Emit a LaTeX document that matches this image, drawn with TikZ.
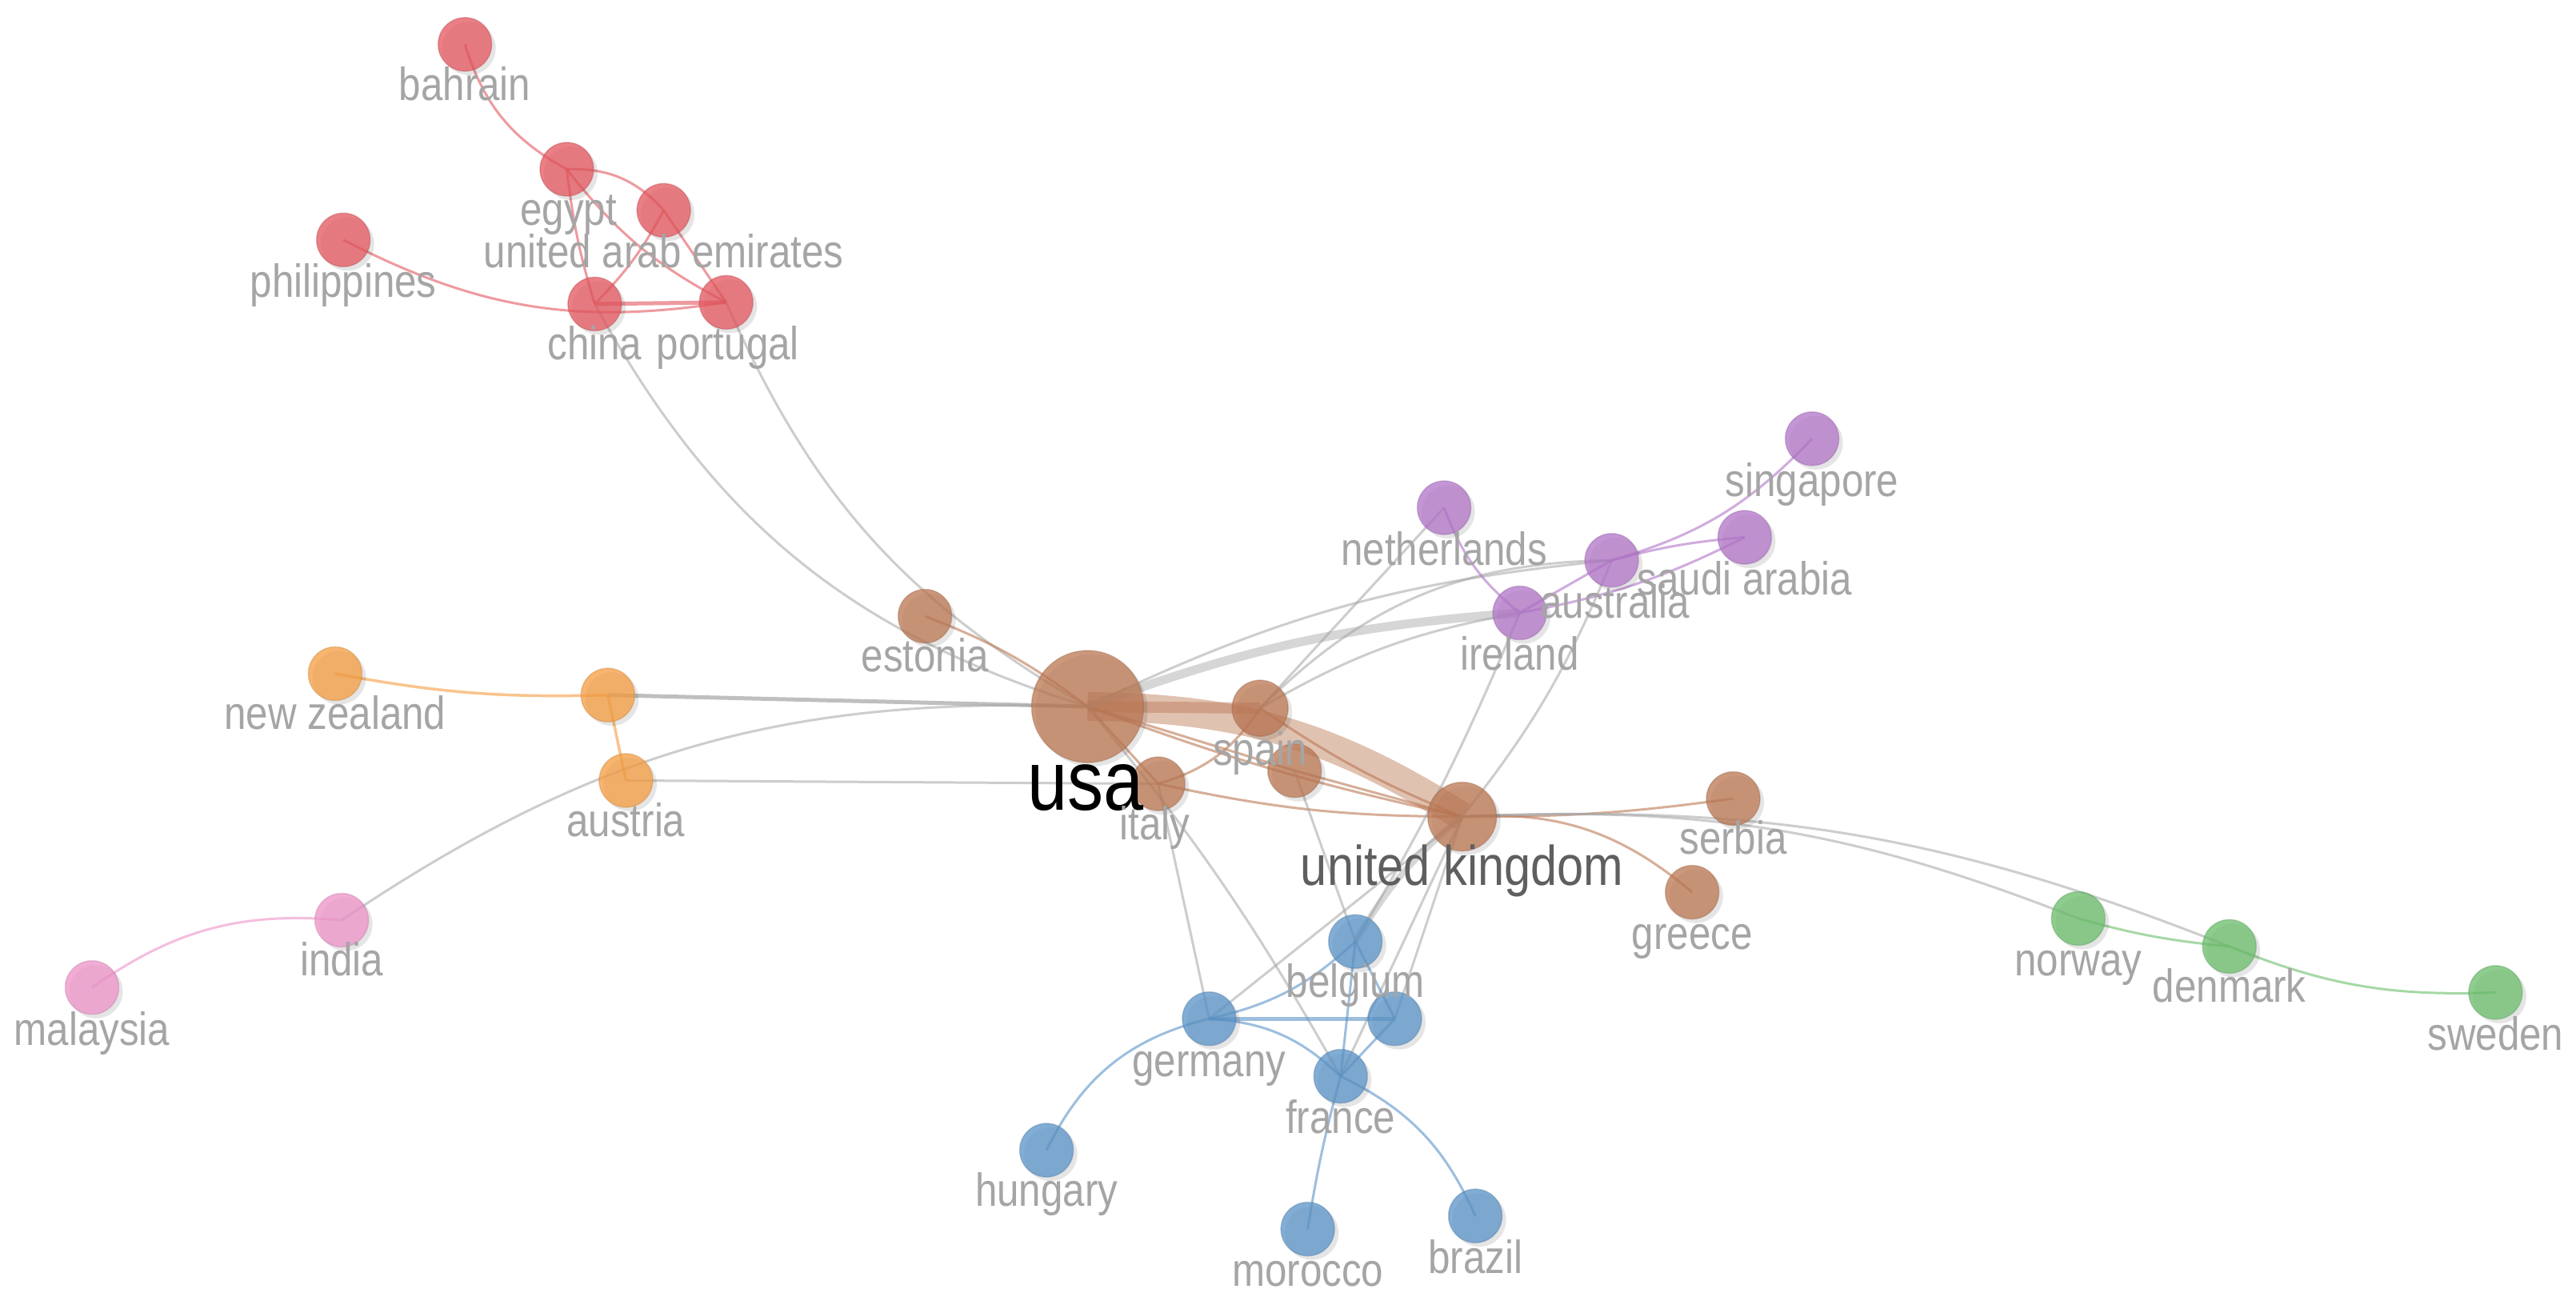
\documentclass[tikz,border=0pt]{standalone}
\usepackage{fontspec}
\newfontfamily\lbl{Liberation Sans}[FakeStretch=0.85]
\usetikzlibrary{shadows}
\pgfdeclarelayer{bg}
\pgfsetlayers{bg,main}
\definecolor{cred}{RGB}{228,88,95}
\definecolor{cbrown}{RGB}{188,120,84}
\definecolor{cpurple}{RGB}{178,118,200}
\definecolor{corange}{RGB}{245,158,66}
\definecolor{cpink}{RGB}{238,148,200}
\definecolor{cgreen}{RGB}{108,190,108}
\definecolor{cblue}{RGB}{92,148,200}
\definecolor{labgray}{RGB}{165,165,165}
\definecolor{ukgray}{RGB}{95,95,95}
\definecolor{edgegray}{RGB}{165,165,165}
\begin{document}
\begin{tikzpicture}[x=2.0536pt,y=-2.0536pt,
  cnode/.style={circle, inner sep=0pt, minimum size=67pt, fill=#1, draw=#1!80!black,
    fill opacity=0.76, draw opacity=0.35, line width=1.5pt,
    drop shadow={shadow xshift=5pt, shadow yshift=-5pt, opacity=0.10, fill=black}},
  lab/.style={anchor=base, text=labgray, font=\lbl\fontsize{58}{60}\selectfont, inner sep=0pt},
  gedge/.style={draw=edgegray, line width=3pt, draw opacity=0.55},
  redge/.style={draw=cred, line width=3pt, draw opacity=0.6},
  bedge/.style={draw=cbrown, line width=3pt, draw opacity=0.6},
  pedge/.style={draw=cpurple, line width=3pt, draw opacity=0.6},
  oedge/.style={draw=corange, line width=3.5pt, draw opacity=0.6},
  kedge/.style={draw=cpink, line width=3pt, draw opacity=0.6},
  grnedge/.style={draw=cgreen, line width=3pt, draw opacity=0.6},
  bluedge/.style={draw=cblue, line width=3pt, draw opacity=0.6}]
\begin{pgfonlayer}{bg}
\fill[white] (0,0) rectangle (1568,794);
\end{pgfonlayer}
\useasboundingbox (0,0) rectangle (1568,794);

% ---------- nodes ----------
\node[cnode=cred] (bah) at (283,27) {};
\node[cnode=cred] (egy) at (345,103) {};
\node[cnode=cred] (uae) at (404,128) {};
\node[cnode=cred] (phi) at (209,146) {};
\node[cnode=cred] (chi) at (362,185) {};
\node[cnode=cred] (por) at (442,184) {};
\node[cnode=cbrown] (est) at (563,375) {};
\node[cnode=cbrown, minimum size=140pt] (usa) at (662,430) {};
\node[cnode=cbrown, minimum size=70pt] (spa) at (767,431) {};
\node[cnode=cbrown] (ita) at (705,477) {};
\node[cnode=cbrown] (bx) at (788,469) {};
\node[cnode=cbrown, minimum size=86pt] (uk) at (890,497) {};
\node[cnode=cbrown] (ser) at (1055,486) {};
\node[cnode=cbrown] (gre) at (1030,543) {};
\node[cnode=cpurple] (net) at (879,309) {};
\node[cnode=cpurple] (aus) at (981,341) {};
\node[cnode=cpurple] (sau) at (1062,327) {};
\node[cnode=cpurple] (sin) at (1103,267) {};
\node[cnode=cpurple] (ire) at (925,373) {};
\node[cnode=corange] (nz) at (204,410) {};
\node[cnode=corange] (ox) at (370,423) {};
\node[cnode=corange] (aut) at (381,475) {};
\node[cnode=cpink] (ind) at (208,560) {};
\node[cnode=cpink] (mal) at (56,601) {};
\node[cnode=cgreen] (nor) at (1265,559) {};
\node[cnode=cgreen] (den) at (1357,576) {};
\node[cnode=cgreen] (swe) at (1519,604) {};
\node[cnode=cblue] (bel) at (825,573) {};
\node[cnode=cblue] (bx2) at (849,620) {};
\node[cnode=cblue] (ger) at (736,620) {};
\node[cnode=cblue] (fra) at (816,655) {};
\node[cnode=cblue] (hun) at (637,700) {};
\node[cnode=cblue] (mor) at (796,748) {};
\node[cnode=cblue] (bra) at (898,740) {};

% ---------- edges ----------
\begin{pgfonlayer}{bg}
% red cluster
\draw[redge] (bah.center) to[bend right=22] (egy.center);
\draw[redge] (egy.center) to[bend left=25] (uae.center);
\draw[redge] (egy.center) to[bend right=5] (chi.center);
\draw[redge] (egy.center) to[bend right=12] (por.center);
\draw[redge] (uae.center) to[bend left=8] (chi.center);
\draw[redge] (uae.center) to (por.center);
\draw[redge] (phi.center) to[bend right=18] (por.center);
\draw[redge, line width=5pt] (chi.center) -- (por.center);
% gray to usa from the west
\draw[gedge] (chi.center) to[bend right=22] (usa.center);
\draw[gedge] (por.center) to[bend right=18] (usa.center);
\draw[gedge, line width=5pt, draw opacity=0.7] (ox.center) -- (usa.center);
\draw[gedge] (aut.center) -- (ita.center);
\draw[gedge] (ind.center) to[bend left=18] (usa.center);
\draw[oedge] (nz.center) to[bend right=6] (ox.center);
\draw[oedge] (ox.center) -- (aut.center);
\draw[kedge] (mal.center) to[bend left=20] (ind.center);
% brown cluster
\draw[bedge] (est.center) to[bend left=8] (usa.center);
\draw[bedge, line width=36pt, draw opacity=0.45] (usa.center) to[bend left=16] (uk.center);
\draw[bedge, line width=14pt, draw opacity=0.45] (usa.center) -- (spa.center);
\draw[bedge] (usa.center) -- (ita.center);
\draw[bedge] (ita.center) to[bend right=20] (spa.center);
\draw[bedge] (usa.center) -- (bx.center);
\draw[bedge] (spa.center) to[bend right=6] (uk.center);
\draw[bedge] (bx.center) -- (uk.center);
\draw[bedge] (usa.center) to[bend right=4] (uk.center);
\draw[bedge] (ita.center) to[bend right=6] (uk.center);
\draw[bedge] (uk.center) to[bend right=4] (ser.center);
\draw[bedge] (uk.center) to[bend left=22] (gre.center);
% gray to the north-east
\draw[gedge, line width=11pt, draw opacity=0.45] (usa.center) to[bend left=8] (ire.center);
\draw[gedge] (usa.center) to[bend left=10] (aus.center);
\draw[gedge] (spa.center) to[bend left=22] (aus.center);
\draw[gedge] (spa.center) to[bend left=10] (ire.center);
\draw[gedge] (spa.center) -- (net.center);
\draw[gedge] (uk.center) to[bend right=8] (aus.center);
\draw[gedge] (ire.center) to[bend left=4] (bel.center);
% purple cluster
\draw[pedge] (net.center) to[bend right=15] (ire.center);
\draw[pedge] (ire.center) -- (aus.center);
\draw[pedge] (aus.center) to[bend left=5] (sau.center);
\draw[pedge] (ire.center) to[bend right=8] (sau.center);
\draw[pedge] (aus.center) to[bend right=15] (sin.center);
% gray to the south
\draw[gedge] (ita.center) -- (ger.center);
\draw[gedge] (usa.center) to[bend left=5] (fra.center);
\draw[gedge] (uk.center) -- (ger.center);
\draw[gedge, line width=8pt, draw opacity=0.45] (uk.center) to[bend right=10] (bel.center);
\draw[gedge] (bx.center) -- (bel.center);
\draw[gedge] (uk.center) -- (bx2.center);
\draw[gedge] (uk.center) -- (fra.center);
% blue cluster
\draw[bluedge] (ger.center) to[bend right=15] (bel.center);
\draw[bluedge, line width=5pt] (ger.center) -- (bx2.center);
\draw[bluedge] (ger.center) to[bend left=20] (fra.center);
\draw[bluedge] (ger.center) to[bend right=25] (hun.center);
\draw[bluedge] (bel.center) -- (fra.center);
\draw[bluedge] (bel.center) -- (bx2.center);
\draw[bluedge] (bx2.center) -- (fra.center);
\draw[bluedge] (fra.center) to[bend right=3] (mor.center);
\draw[bluedge] (fra.center) to[bend left=20] (bra.center);
% green cluster
\draw[gedge] (uk.center) to[bend left=12] (nor.center);
\draw[gedge] (uk.center) to[bend left=12] (den.center);
\draw[grnedge] (nor.center) to[bend right=5] (den.center);
\draw[grnedge] (den.center) to[bend right=12] (swe.center);
\end{pgfonlayer}

% ---------- labels ----------
\node[lab] (bah-l) at (283,61) {bahrain};
\node[lab] (egy-l) at (346,137) {egypt};
\node[lab] (uae-l) at (404,163) {united arab emirates};
\node[lab] (phi-l) at (209,181) {philippines};
\node[lab] (chi-l) at (362,219) {china};
\node[lab] (por-l) at (443,219) {portugal};
\node[lab] (est-l) at (563,409) {estonia};
\node[lab, text=black, font=\lbl\fontsize{106}{110}\selectfont] (usa-l) at (661,493) {usa};
\node[lab] (spa-l) at (767,466) {spain};
\node[lab] (ita-l) at (703,511) {italy};
\node[lab, text=ukgray, font=\lbl\fontsize{70}{74}\selectfont] (uk-l) at (890,539) {united kingdom};
\node[lab] (ser-l) at (1055,520) {serbia};
\node[lab] (gre-l) at (1030,578) {greece};
\node[lab] (net-l) at (879,344) {netherlands};
\node[lab] (aus-l) at (983,376) {australia};
\node[lab] (sau-l) at (1062,362) {saudi arabia};
\node[lab] (sin-l) at (1103,302) {singapore};
\node[lab] (ire-l) at (925,408) {ireland};
\node[lab] (nz-l) at (204,444) {new zealand};
\node[lab] (aut-l) at (381,509) {austria};
\node[lab] (ind-l) at (208,594) {india};
\node[lab] (mal-l) at (56,636) {malaysia};
\node[lab] (nor-l) at (1265,594) {norway};
\node[lab] (den-l) at (1357,610) {denmark};
\node[lab] (swe-l) at (1519,639) {sweden};
\node[lab] (bel-l) at (825,607) {belgium};
\node[lab] (ger-l) at (736,655) {germany};
\node[lab] (fra-l) at (816,690) {france};
\node[lab] (hun-l) at (637,734) {hungary};
\node[lab] (mor-l) at (796,783) {morocco};
\node[lab] (bra-l) at (898,775) {brazil};
\end{tikzpicture}
\end{document}
